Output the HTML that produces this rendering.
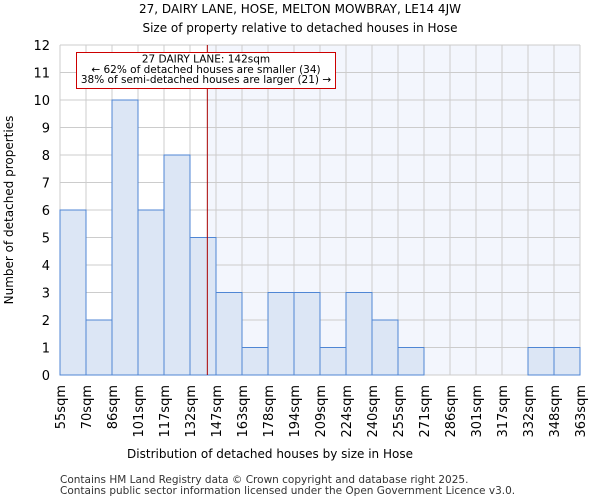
<!DOCTYPE html>
<html><head><meta charset="utf-8"><style>
body{margin:0;background:#fff;font-family:"DejaVu Sans","Liberation Sans",sans-serif;}
</style></head><body>
<svg id="c" width="600" height="500" xmlns="http://www.w3.org/2000/svg" font-family="DejaVu Sans, Liberation Sans, sans-serif">
<text x="300" y="13" text-anchor="middle" font-size="12">27, DAIRY LANE, HOSE, MELTON MOWBRAY, LE14 4JW</text>
<text x="300" y="32" text-anchor="middle" font-size="12">Size of property relative to detached houses in Hose</text>
<g id="plot"></g>
<text x="270" y="458" text-anchor="middle" font-size="12">Distribution of detached houses by size in Hose</text>
<text transform="translate(13,210) rotate(-90)" text-anchor="middle" font-size="12">Number of detached properties</text>
<text x="60" y="483" font-size="10.5" fill="#333">Contains HM Land Registry data © Crown copyright and database right 2025.</text>
<text x="60" y="494" font-size="10.5" fill="#333">Contains public sector information licensed under the Open Government Licence v3.0.</text>
</svg>
<script>
const tickLabels=["55sqm","70sqm","86sqm","101sqm","117sqm","132sqm","147sqm","163sqm","178sqm","194sqm","209sqm","224sqm","240sqm","255sqm","271sqm","286sqm","301sqm","317sqm","332sqm","348sqm","363sqm"];
const counts=[6,2,10,6,8,5,3,1,3,3,1,3,2,1,0,0,0,0,1,1];
const yTicks=[0,1,2,3,4,5,6,7,8,9,10,11,12];
const propertyBin=5+10/15;
const X0=60,X1=580,Y0=375,Y1=45,YMAX=12;
const bw=(X1-X0)/counts.length;
const xs=i=>X0+i*bw;
const ys=v=>Y0-(Y0-Y1)*v/YMAX;
const NS="http://www.w3.org/2000/svg";
const g=document.getElementById('plot');
function mk(t,a){const e=document.createElementNS(NS,t);for(const k in a)e.setAttribute(k,a[k]);g.appendChild(e);return e;}
const px=xs(propertyBin);
let bg=mk('rect',{x:px,y:Y1,width:X1-px,height:Y0-Y1,fill:'#f3f6fd'});


yTicks.forEach(v=>{
 let l=mk('line',{x1:X0,x2:X1,y1:ys(v),y2:ys(v),stroke:'#cccccc','stroke-width':1});
 
 
 let t=mk('text',{x:X0-10,y:ys(v)+5,'text-anchor':'end','font-size':13});
 t.textContent=v;
 
 
});
tickLabels.forEach((s,i)=>{
 let l=mk('line',{x1:xs(i),x2:xs(i),y1:Y1,y2:Y0,stroke:'#cccccc','stroke-width':1});
 
 
 let t=mk('text',{transform:`translate(${xs(i)+5},${Y0+10}) rotate(-90)`,'text-anchor':'end','font-size':13});
 t.textContent=s;
 
 
});
counts.forEach((c,i)=>{
 if(c<=0)return;
 let r=mk('rect',{x:xs(i),y:ys(c),width:bw,height:Y0-ys(c),fill:'#dce6f5',stroke:'#4f86d4','stroke-width':1});
 
 
});
let pl=mk('line',{x1:px,x2:px,y1:Y1,y2:Y0,stroke:'#aa0000','stroke-width':1});


let bx=mk('rect',{x:76.5,y:52.5,width:259,height:36,fill:'#fff',stroke:'#cc0000','stroke-width':1});


["27 DAIRY LANE: 142sqm","← 62% of detached houses are smaller (34)","38% of semi-detached houses are larger (21) →"].forEach((s,i)=>{
 let t=mk('text',{x:206,y:62.5+i*10.3,'text-anchor':'middle','font-size':10.5});
 t.textContent=s;
 
 
});
</script>
</body></html>
